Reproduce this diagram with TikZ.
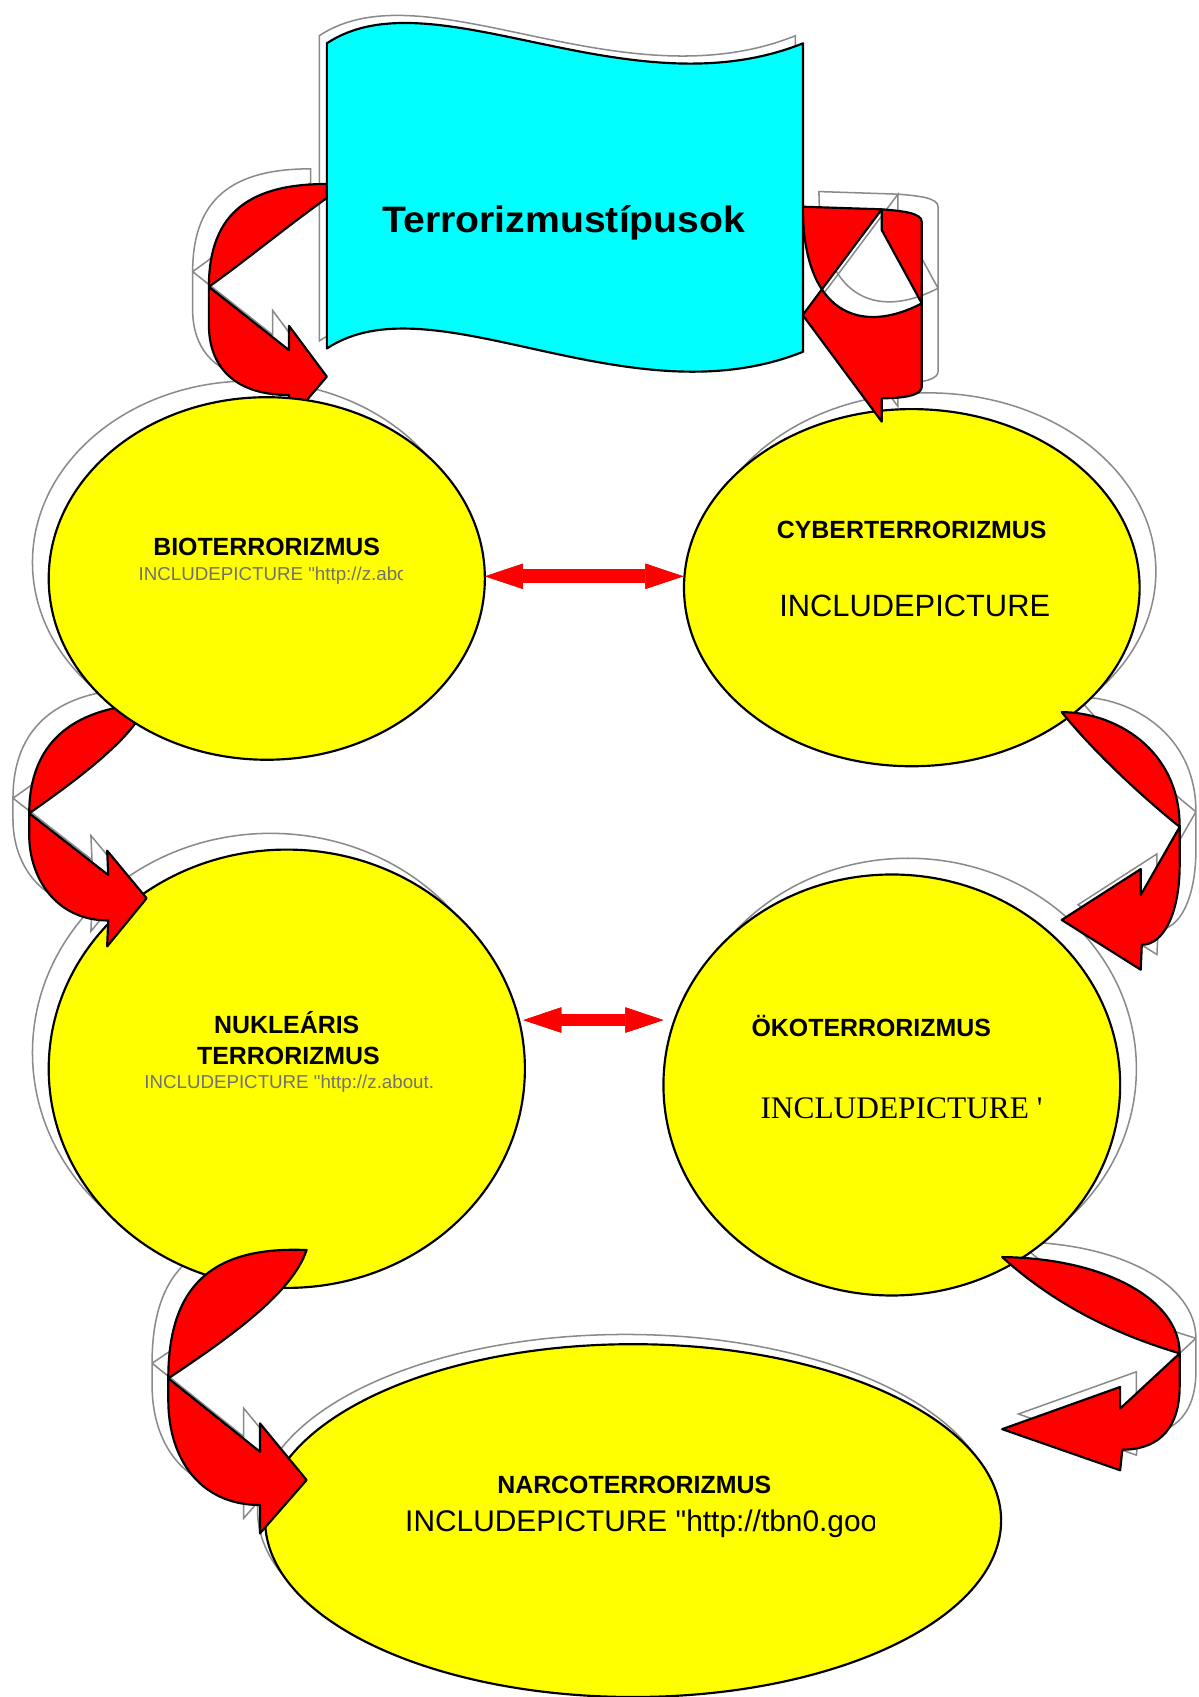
\documentclass[tikz,border=0pt]{standalone}
\usepackage{fontspec}
\usepackage{graphicx}
\setmainfont{Liberation Sans}[Ligatures=TeXOff]
\newfontfamily\tnrfont{Liberation Serif}[Ligatures=TeXOff]
\usetikzlibrary{arrows.meta,shapes.geometric}
\definecolor{shgray}{HTML}{8A8A8A}
\definecolor{txtgray}{HTML}{707070}
\definecolor{dkred}{HTML}{A00000}
\definecolor{flagcyan}{HTML}{00FFFF}
\definecolor{elyellow}{HTML}{FFFF00}
\definecolor{arrred}{HTML}{FF0000}
\tikzset{
  shadowline/.style={draw=shgray, line width=0.7pt, fill=none},
  redshape/.style={fill=arrred, draw=black, line width=1pt, line join=round},
  ell/.style={ellipse, draw=black, fill=elyellow, line width=1pt, inner sep=0pt, outer sep=0pt},
  flagstyle/.style={fill=flagcyan, draw=black, line width=1pt, line join=round},
  boldlbl/.style={font=\fontsize{11.5pt}{13pt}\selectfont\bfseries, inner sep=0pt, anchor=base},
  graylbl/.style={font=\fontsize{8.65pt}{10pt}\selectfont, text=txtgray, inner sep=0pt, anchor=base west},
  dblarrow/.style={draw=arrred, line width=#1,
     {Triangle[length=17.5pt,width=11.7pt,line width=0pt]}-{Triangle[length=17.5pt,width=11.7pt,line width=0pt]}},
  dblshade/.style={draw=dkred, line width=#1,
     {Triangle[length=17.5pt,width=11.7pt,line width=0pt]}-{Triangle[length=17.5pt,width=11.7pt,line width=0pt]}},
  % curved arrow: flag -> bioterrorizmus
  arrA/.pic={\path[pic actions]
     (0,0) .. controls (0,-70) and (40,-95) .. (109,-95) -- (109,-82)
           .. controls (75,-58) and (35,-25) .. (0,0) -- cycle
     (0,0) -- (0,35) .. controls (0,75) and (25,100) .. (74,100) -- (74,124)
           -- (109,83) -- (74,36) -- (74,58.5) -- cycle;},
  % bioterrorizmus -> nuklearis
  arrB/.pic={\path[pic actions]
     (0,0) .. controls (0,-65) and (40,-97) .. (108,-101)
           .. controls (98,-72) and (50,-35) .. (0,0) -- cycle
     (0,0) -- (0,20) .. controls (0,60) and (25,99) .. (73,99) -- (72,123)
           -- (108.5,78.5) -- (72,34.5) -- (73,57) -- cycle;},
  % nuklearis -> narco
  arrC/.pic={\path[pic actions]
     (0,0) .. controls (0,-90) and (45,-122) .. (127.8,-118.6)
           .. controls (115,-80) and (60,-40) .. (0,0) -- cycle
     (0,0) -- (0,20) .. controls (0,75) and (30,117) .. (84.7,117) -- (84.7,143.2)
           -- (127.8,93.9) -- (84.7,41.6) -- (84.7,67.8) -- cycle;},
  % cyber -> oko
  arrE/.pic={\path[pic actions]
     (0,0) .. controls (0,-72) and (-60,-106) .. (-109,-106)
           .. controls (-80,-70) and (-35,-28) .. (0,0) -- cycle
     (0,0) -- (0,35) .. controls (0,80) and (-15,109) .. (-35,109) -- (-36,132)
           -- (-109,86) -- (-36,39) -- (-36,63) -- cycle;},
  % oko -> narco
  arrF/.pic={\path[pic actions]
     (0,0) .. controls (0,-50) and (-70,-88) .. (-164,-89)
           .. controls (-110,-40) and (-50,-15) .. (0,0) -- cycle
     (0,0) -- (0,30) .. controls (0,75) and (-25,89) .. (-53,89) -- (-55,108)
           -- (-164,70) -- (-55,31) -- (-55,51) -- cycle;},
  % flag -> cyber (twisted)
  arrD/.pic={\path[pic actions, even odd rule]
     (741.7,191) -- (814.7,193.4) .. controls (835,195) and (851.7,197) .. (851.7,205)
           -- (851.7,280.3) .. controls (795,310) and (742,290) .. (741.7,191) -- cycle
     (851.7,280.3) -- (814.7,212.5) -- (814.7,193.4) -- (741.7,291.1) -- (814.7,389.6)
           -- (814.7,368) .. controls (840,368) and (851.7,364) .. (851.7,357.3) -- cycle;},
}
\begin{document}
\begin{tikzpicture}[x=0.5pt,y=-0.5pt]
\useasboundingbox (0,0) rectangle (1107,1568);
\fill[white] (0,0) rectangle (1107,1568);

% ---------- shadows ----------
\draw[shadowline] (295,33) .. controls (393,-32) and (573,98) .. (735,33) -- (735,318)
   .. controls (573,383) and (393,250) .. (295,315) -- cycle;
\draw[shadowline] (231.5,519.5) ellipse [x radius=201.5, y radius=167.5];
\draw[shadowline] (857.5,528) ellipse [x radius=210.5, y radius=165];
\draw[shadowline] (250,972.5) ellipse [x radius=220, y radius=202.5];
\draw[shadowline] (839,987.5) ellipse [x radius=211, y radius=194.5];
\draw[shadowline] (578,1396) ellipse [x radius=340, y radius=163];
\pic[shadowline] at (178,251) {arrA};
\pic[shadowline] at (12,737.5) {arrB};
\pic[shadowline] at (140.5,1259.6) {arrC};
\pic[shadowline] at (1105,750) {arrE};
\pic[shadowline] at (1105,1236.5) {arrF};
\pic[shadowline] at (15,-14) {arrD};

% ---------- ellipses (lower ones first) ----------
\node[ell, minimum width=340pt, minimum height=163pt] (narco) at (585,1405) {};
\node[ell, minimum width=211pt, minimum height=194.5pt] (oko) at (824,1002.5) {};
\node[ell, minimum width=220pt, minimum height=202.5pt] (nuk) at (265,987.5) {};
\node[ell, minimum width=210.5pt, minimum height=165pt] (cyber) at (842.5,543) {};

% ---------- curved arrows ----------
\pic[redshape] at (155.5,1273.6) {arrC};
\pic[redshape] at (1090,1250.5) {arrF};
\pic[redshape] at (1090,764) {arrE};
\pic[redshape] at (27,751.5) {arrB};
\pic[redshape] at (193,265) {arrA};

\node[ell, minimum width=201.5pt, minimum height=167.5pt] (bio) at (246.5,534.5) {};

\pic[redshape] at (0,0) {arrD};

% ---------- flag ----------
\draw[flagstyle] (302,40) .. controls (400,-25) and (580,105) .. (742,40) -- (742,325)
   .. controls (580,390) and (400,257) .. (302,322) -- cycle;
\node[inner sep=0pt, anchor=base, font=\fontsize{17pt}{20pt}\selectfont\bfseries] (title)
   at (521,214.6) {\scalebox{1.065}[1]{Terrorizmustípusok}};

% ---------- double arrows ----------
\coordinate (bcL) at (448.2,532.5);
\coordinate (bcR) at (631.4,532.5);
\coordinate (noL) at (483.6,942.5);
\coordinate (noR) at (612.9,942.5);
\draw[dblshade=6.5pt, shift={(-2,-2.5)}] (bcL) -- (bcR);
\draw[dblarrow=6.5pt] (bcL) -- (bcR);
\draw[dblshade=5.5pt, shift={(-2,-2.5)}] (noL) -- (noR);
\draw[dblarrow=5.5pt] (noL) -- (noR);

% ---------- texts ----------
\node[boldlbl] (tbio) at (246.4,513) {BIOTERRORIZMUS};
\begin{scope}
  \clip (120,515) rectangle (371.5,545);
  \node[graylbl] (tbioinc) at (127.8,536) {INCLUDEPICTURE "http://z.abo};
\end{scope}

\node[boldlbl] (tcyber) at (842.4,497.4) {CYBERTERRORIZMUS};
\node[inner sep=0pt, anchor=base, font=\fontsize{14.25pt}{16pt}\selectfont] (tcyberinc)
   at (845.2,569.9) {INCLUDEPICTURE};

\node[boldlbl] (tnuk1) at (264.9,955) {NUKLEÁRIS};
\node[boldlbl] (tnuk2) at (266.5,983.2) {TERRORIZMUS};
\node[graylbl] (tnukinc) at (133,1005.7) {INCLUDEPICTURE "http://z.about.};

\node[boldlbl] (toko) at (805,958) {ÖKOTERRORIZMUS};
\node[inner sep=0pt, anchor=base west, font=\fontsize{14.5pt}{16pt}\tnrfont] (tokoinc)
   at (702.3,1033.4) {INCLUDEPICTURE '};

\node[boldlbl] (tnarco) at (586,1380) {NARCOTERRORIZMUS};
\begin{scope}
  \clip (360,1385) rectangle (808,1425);
  \node[inner sep=0pt, anchor=base west, font=\fontsize{13.8pt}{16pt}\selectfont] (tnarcoinc)
     at (374,1415.3) {INCLUDEPICTURE "http://tbn0.goo};
\end{scope}
\end{tikzpicture}
\end{document}
